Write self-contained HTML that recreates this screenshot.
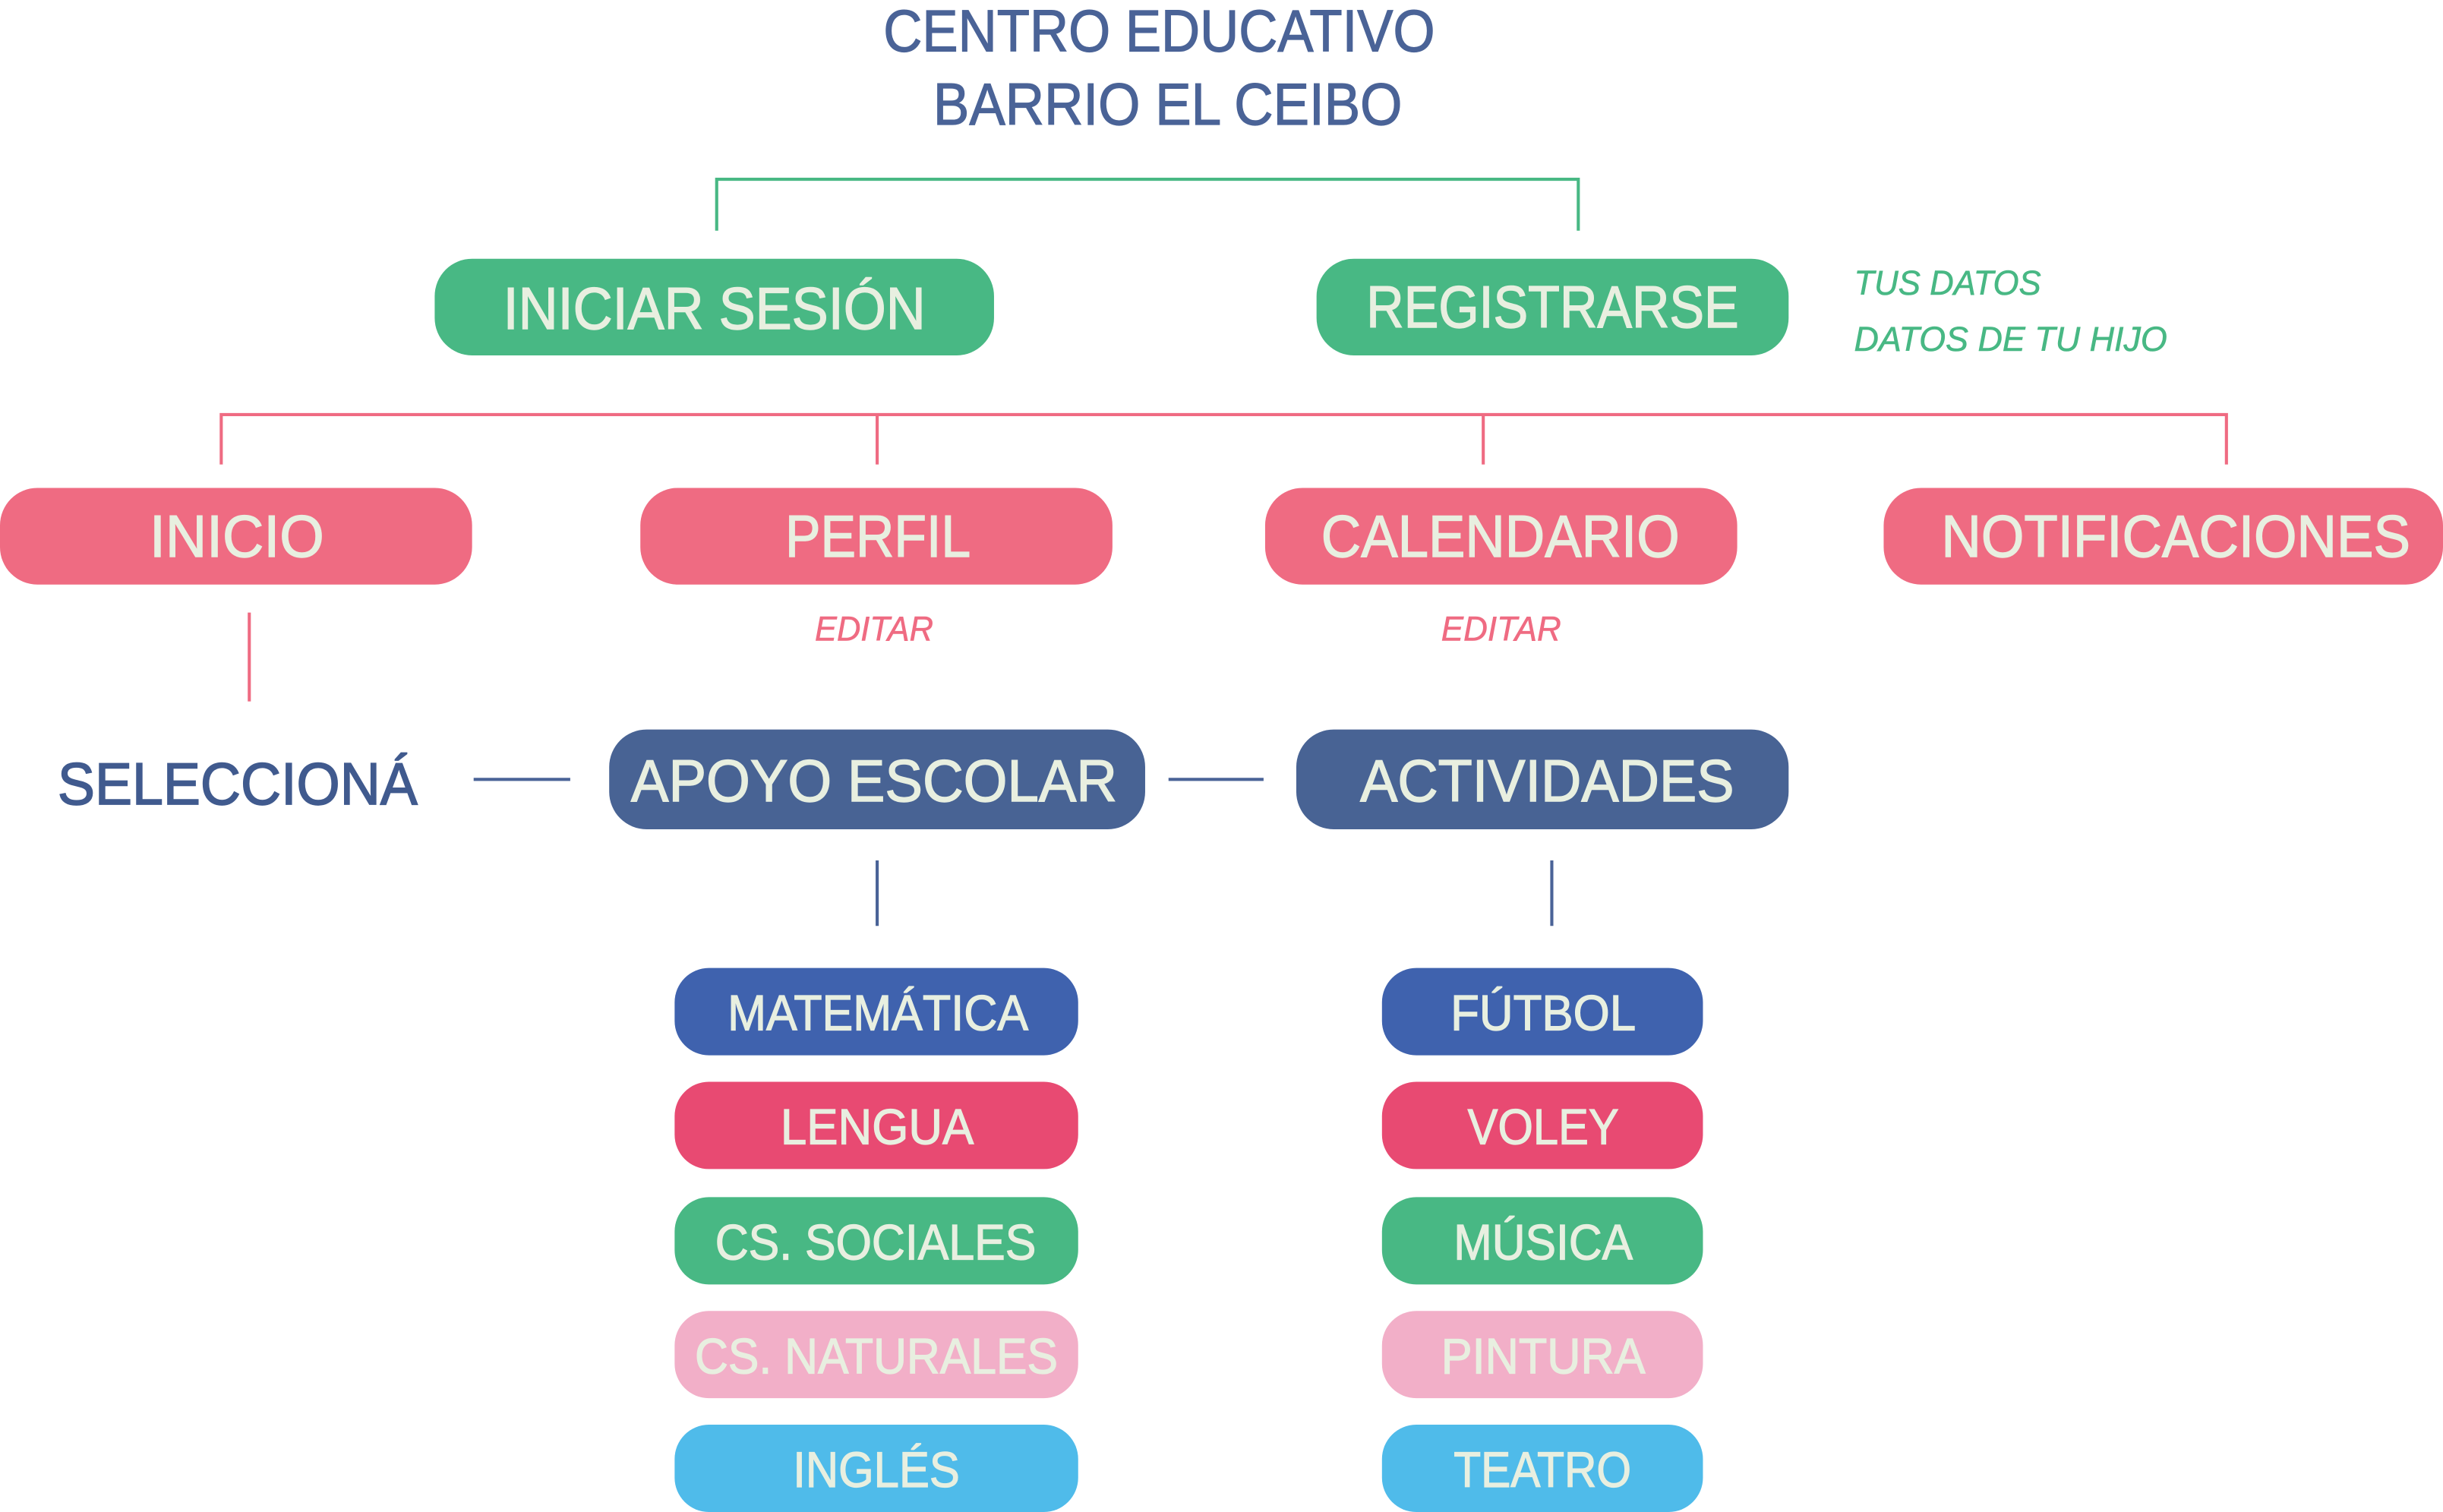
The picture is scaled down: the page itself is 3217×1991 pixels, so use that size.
<!DOCTYPE html>
<html><head><meta charset="utf-8"><style>html,body{margin:0;padding:0;background:#fff}svg{display:block}</style></head>
<body>
<svg width="3217" height="1991" viewBox="0 0 1568 970" preserveAspectRatio="none" xmlns="http://www.w3.org/2000/svg" font-family="Liberation Sans, sans-serif">
<g fill="#4a6397" stroke="#4a6397" stroke-width="0.6" font-size="38">
<text x="567" y="33" textLength="354" lengthAdjust="spacingAndGlyphs">CENTRO EDUCATIVO</text>
<text x="599" y="80" textLength="301" lengthAdjust="spacingAndGlyphs">BARRIO EL CEIBO</text>
</g>
<g stroke="#48b884" stroke-width="2" fill="none"><path d="M460 148V115H1013V148"/></g>
<g stroke="#ef6b82" stroke-width="2" fill="none"><path d="M142 298V266H1429V298M563 266V298M952 266V298M160 393V450"/></g>
<g stroke="#4a6397" stroke-width="2" fill="none"><path d="M304 500H366M750 500H811M563 552V594M996 552V594"/></g>
<rect x="279" y="166" width="359" height="62" rx="24" fill="#48b884"/>
<rect x="845" y="166" width="303" height="62" rx="24" fill="#48b884"/>
<g fill="#ef6b82">
<rect x="0" y="313" width="303" height="62" rx="24"/>
<rect x="411" y="313" width="303" height="62" rx="24"/>
<rect x="812" y="313" width="303" height="62" rx="24"/>
<rect x="1209" y="313" width="359" height="62" rx="24"/>
</g>
<rect x="391" y="468" width="344" height="64" rx="24" fill="#486394"/>
<rect x="832" y="468" width="316" height="64" rx="24" fill="#486394"/>
<g>
<rect x="433" y="621" width="259" height="56" rx="22" fill="#3f62ae"/>
<rect x="433" y="694" width="259" height="56" rx="22" fill="#e84a72"/>
<rect x="433" y="768" width="259" height="56" rx="22" fill="#48b884"/>
<rect x="433" y="841" width="259" height="56" rx="22" fill="#f2afc8"/>
<rect x="433" y="914" width="259" height="56" rx="22" fill="#4fbbea"/>
<rect x="887" y="621" width="206" height="56" rx="22" fill="#3f62ae"/>
<rect x="887" y="694" width="206" height="56" rx="22" fill="#e84a72"/>
<rect x="887" y="768" width="206" height="56" rx="22" fill="#48b884"/>
<rect x="887" y="841" width="206" height="56" rx="22" fill="#f2afc8"/>
<rect x="887" y="914" width="206" height="56" rx="22" fill="#4fbbea"/>
</g>
<g fill="#e8efe0" stroke="#e8efe0" stroke-width="0.7" font-size="38">
<text x="323" y="211" textLength="271" lengthAdjust="spacingAndGlyphs">INICIAR SESIÓN</text>
<text x="877" y="210" textLength="239" lengthAdjust="spacingAndGlyphs">REGISTRARSE</text>
<text x="96" y="357" textLength="112" lengthAdjust="spacingAndGlyphs">INICIO</text>
<text x="504" y="357" textLength="119" lengthAdjust="spacingAndGlyphs">PERFIL</text>
<text x="848" y="357" textLength="230" lengthAdjust="spacingAndGlyphs">CALENDARIO</text>
<text x="1246" y="357" textLength="301" lengthAdjust="spacingAndGlyphs">NOTIFICACIONES</text>
<text x="405" y="514" textLength="312" lengthAdjust="spacingAndGlyphs">APOYO ESCOLAR</text>
<text x="873" y="514" textLength="240" lengthAdjust="spacingAndGlyphs">ACTIVIDADES</text>
</g>
<text x="37" y="516" font-size="38" fill="#405a8e" stroke="#405a8e" stroke-width="0.8" textLength="231" lengthAdjust="spacingAndGlyphs">SELECCIONÁ</text>
<g fill="#e8efe0" stroke="#e8efe0" stroke-width="0.6" font-size="32">
<text x="467" y="661" textLength="193" lengthAdjust="spacingAndGlyphs">MATEMÁTICA</text>
<text x="501" y="734" textLength="124" lengthAdjust="spacingAndGlyphs">LENGUA</text>
<text x="459" y="808" textLength="206" lengthAdjust="spacingAndGlyphs">CS. SOCIALES</text>
<text x="446" y="881" textLength="233" lengthAdjust="spacingAndGlyphs">CS. NATURALES</text>
<text x="509" y="954" textLength="107" lengthAdjust="spacingAndGlyphs">INGLÉS</text>
<text x="931" y="661" textLength="119" lengthAdjust="spacingAndGlyphs">FÚTBOL</text>
<text x="942" y="734" textLength="97" lengthAdjust="spacingAndGlyphs">VOLEY</text>
<text x="933" y="808" textLength="115" lengthAdjust="spacingAndGlyphs">MÚSICA</text>
<text x="925" y="881" textLength="131" lengthAdjust="spacingAndGlyphs">PINTURA</text>
<text x="933" y="954" textLength="114" lengthAdjust="spacingAndGlyphs">TEATRO</text>
</g>
<g fill="#48b884" stroke="#48b884" stroke-width="0.3" font-size="22" font-style="italic">
<text x="1190" y="189" textLength="120" lengthAdjust="spacingAndGlyphs">TUS DATOS</text>
<text x="1190" y="225" textLength="201" lengthAdjust="spacingAndGlyphs">DATOS DE TU HIJO</text>
</g>
<g fill="#ef6b82" stroke="#ef6b82" stroke-width="0.3" font-size="22" font-style="italic">
<text x="523" y="411" textLength="76" lengthAdjust="spacingAndGlyphs">EDITAR</text>
<text x="925" y="411" textLength="77" lengthAdjust="spacingAndGlyphs">EDITAR</text>
</g>
</svg>
</body></html>
